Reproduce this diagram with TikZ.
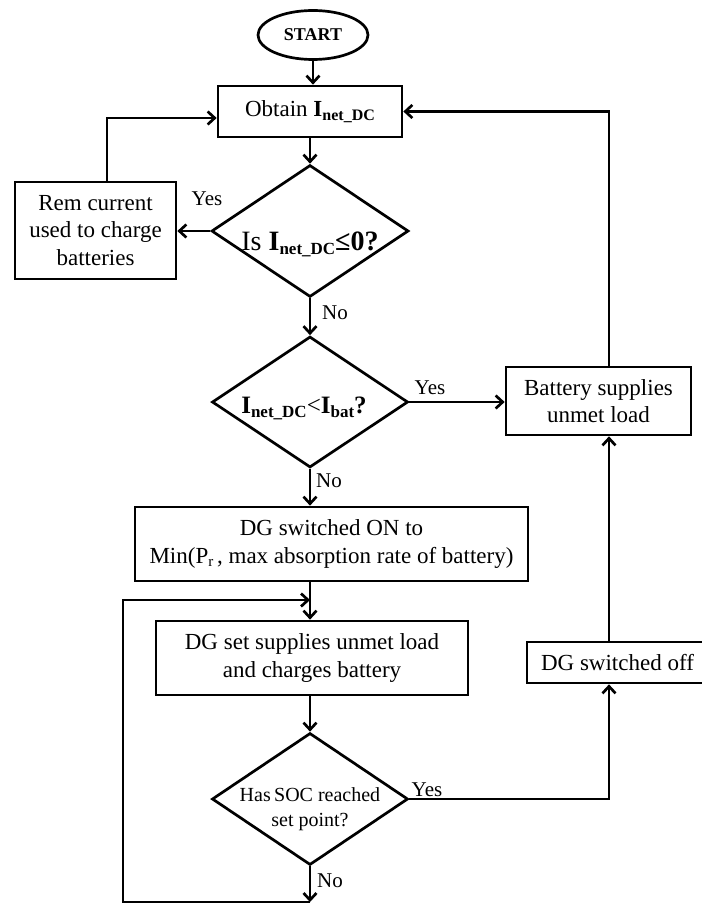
\documentclass[tikz,border=0pt]{standalone}
\usepackage{fontspec}
\setmainfont{Liberation Serif}
\usetikzlibrary{shapes.geometric,arrows.meta}
\newcommand\lsub[2]{\raisebox{-0.35ex}{\fontsize{#1}{#1}\selectfont #2}}
\begin{document}
\begin{tikzpicture}[x=1pt,y=-1pt,
  line width=2.7pt,
  arr/.style={-{Straight Barb[length=7pt,width=13pt]}},
  box/.style={draw, rectangle, inner sep=0pt, align=center, font=\fontsize{23}{27.5}\selectfont},
  dia/.style={draw, diamond, inner sep=0pt, aspect=1.5},
  lbl/.style={font=\fontsize{21}{21}\selectfont, inner sep=0pt},
  dtext/.style={inner sep=0pt, align=center},
]
\useasboundingbox (0,0) rectangle (701,904);

% nodes
\node[draw, ellipse, minimum width=110pt, minimum height=49pt, inner sep=0pt,
      font=\fontsize{18}{18}\selectfont\bfseries] (start) at (313,35) {START};
\node[box, minimum width=184pt, minimum height=51pt] (obtain) at (310,111.5)
      {Obtain \textbf{I\lsub{16}{net\_DC}}};
\node[dia, minimum width=197pt, minimum height=132pt] (d1) at (310,231) {};
\node[dtext, anchor=base, font=\fontsize{28}{30}\selectfont] (d1t) at (310,250)
      {Is \textbf{I\lsub{17}{net\_DC}≤0?}};
\node[box, minimum width=161pt, minimum height=97pt] (rem) at (95.5,230.5)
      {Rem current\\used to charge\\batteries};
\node[dia, minimum width=196pt, minimum height=131pt] (d2) at (310,402) {};
\node[dtext, anchor=base, font=\fontsize{25}{27}\selectfont] (d2t) at (304,413)
      {\textbf{I\lsub{17}{net\_DC}}<\textbf{I\lsub{17}{bat}?}};
\node[box, minimum width=185pt, minimum height=68pt] (batt) at (598.5,401)
      {Battery supplies\\unmet load};
\node[box, minimum width=393pt, minimum height=74pt] (dgon) at (331.5,544)
      {DG switched ON to\\Min(P\lsub{15}{r}\,, max absorption rate of battery)};
\node[box, minimum width=312pt, minimum height=74pt] (dgset) at (312,658)
      {DG set supplies unmet load\\and charges battery};
\node[dia, minimum width=196pt, minimum height=132pt] (d3) at (310,799) {};
\node[dtext, font=\fontsize{20}{25}\selectfont] (d3t) at (310,809)
      {Has\,SOC reached\\set point?};
\node[box, minimum width=181pt, minimum height=41pt] (dgoff) at (617.5,662.5)
      {DG switched off};

% labels
\node[lbl] (y1) at (207,199) {Yes};
\node[lbl] (n1) at (335,313) {No};
\node[lbl] (y2) at (430,388) {Yes};
\node[lbl] (n2) at (329,481) {No};
\node[lbl] (y3) at (427,790) {Yes};
\node[lbl] (n3) at (330,881) {No};

% helper coordinates
\coordinate (rx) at (609,0);
\coordinate (bot) at (310,902);
\coordinate (botl) at (123,902);
\coordinate (loopl) at (123,600);
\coordinate (loopin) at (310,600);

% connectors
\draw[arr] (start.south) -- (start.south |- obtain.north);
\draw[arr] (obtain.south) -- (d1.north);
\draw[arr] (d1.west) -- (d1.west -| rem.east);
\draw[arr] ([xshift=11.5pt]rem.north) |- ([yshift=-6.5pt]obtain.west);
\draw[arr] (d1.south) -- (d2.north);
\draw[arr] (d2.east) -- (d2.east -| batt.west);
\draw[arr] (rx |- batt.north) |- (obtain.east);
\draw[arr] (d2.south) -- (d2.south |- dgon.north);
\draw[arr] (d2.south |- dgon.south) -- (d2.south |- dgset.north);
\draw[arr] (d3.north |- dgset.south) -- (d3.north);
\draw[arr] (d3.south) -- (bot);
\draw[arr] (bot) -- (botl) -- (loopl) -- (loopin);
\draw[arr] (d3.east) -| (rx |- dgoff.south);
\draw[arr] (rx |- dgoff.north) -- (rx |- batt.south);
\end{tikzpicture}
\end{document}
